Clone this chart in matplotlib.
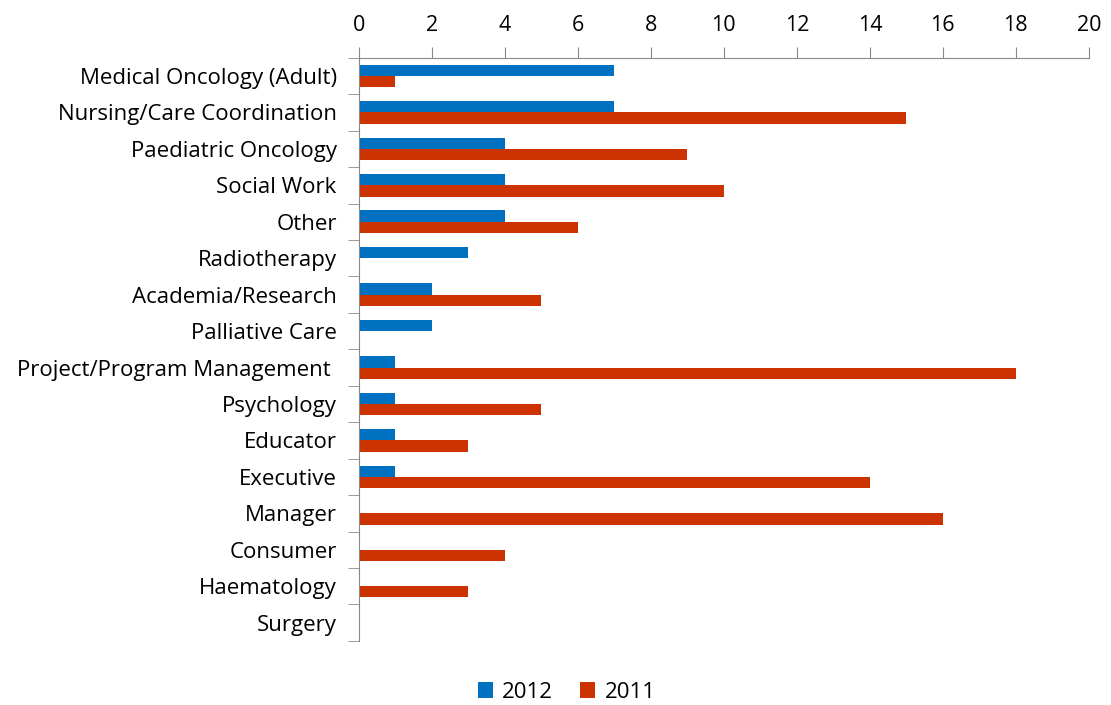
import numpy as np
import matplotlib
matplotlib.use('Agg')
import matplotlib.pyplot as plt
from matplotlib.ticker import FixedLocator

categories = ['Medical Oncology (Adult)', 'Nursing/Care Coordination', 'Paediatric Oncology',
              'Social Work', 'Other', 'Radiotherapy', 'Academia/Research', 'Palliative Care',
              'Project/Program Management ', 'Psychology', 'Educator', 'Executive', 'Manager',
              'Consumer', 'Haematology', 'Surgery']
values_2012 = [7, 7, 4, 4, 4, 3, 2, 2, 1, 1, 1, 1, 0, 0, 0, 0]
values_2011 = [1, 15, 9, 10, 6, 0, 5, 0, 18, 5, 3, 14, 16, 4, 3, 0]

plt.rcParams['font.family'] = ['Open Sans', 'DejaVu Sans']

fig = plt.figure(figsize=(11.11, 7.05), dpi=100)
ax = fig.add_axes([0.323, 0.091, 0.657, 0.827])

y = np.arange(len(categories))
h = 0.31
ax.barh(y - h / 2, values_2012, height=h, color='#0070C0', label='2012')
ax.barh(y + h / 2, values_2011, height=h, color='#CC3300', label='2011')

ax.set_xlim(0, 20)
ax.set_ylim(len(categories) - 0.5, -0.5)
ax.set_xticks(range(0, 21, 2))
ax.xaxis.tick_top()
ax.tick_params(axis='x', direction='out', length=8, color='#888888', labelsize=15.5, pad=8)

ax.set_yticks(y)
ax.set_yticklabels(categories)
ax.yaxis.set_minor_locator(FixedLocator(np.arange(-0.5, len(categories), 1)))
ax.tick_params(axis='y', which='major', length=0, labelsize=16, pad=16)
ax.tick_params(axis='y', which='minor', length=8, color='#888888')

for s in ['right', 'bottom']:
    ax.spines[s].set_visible(False)
for s in ['left', 'top']:
    ax.spines[s].set_color('#888888')

fig.legend(loc='lower center', bbox_to_anchor=(0.51, -0.025), ncol=2, frameon=False,
           fontsize=16, handlelength=0.7, handleheight=0.7, handletextpad=0.4, columnspacing=1.2)

fig.savefig('out.png', dpi=100)
